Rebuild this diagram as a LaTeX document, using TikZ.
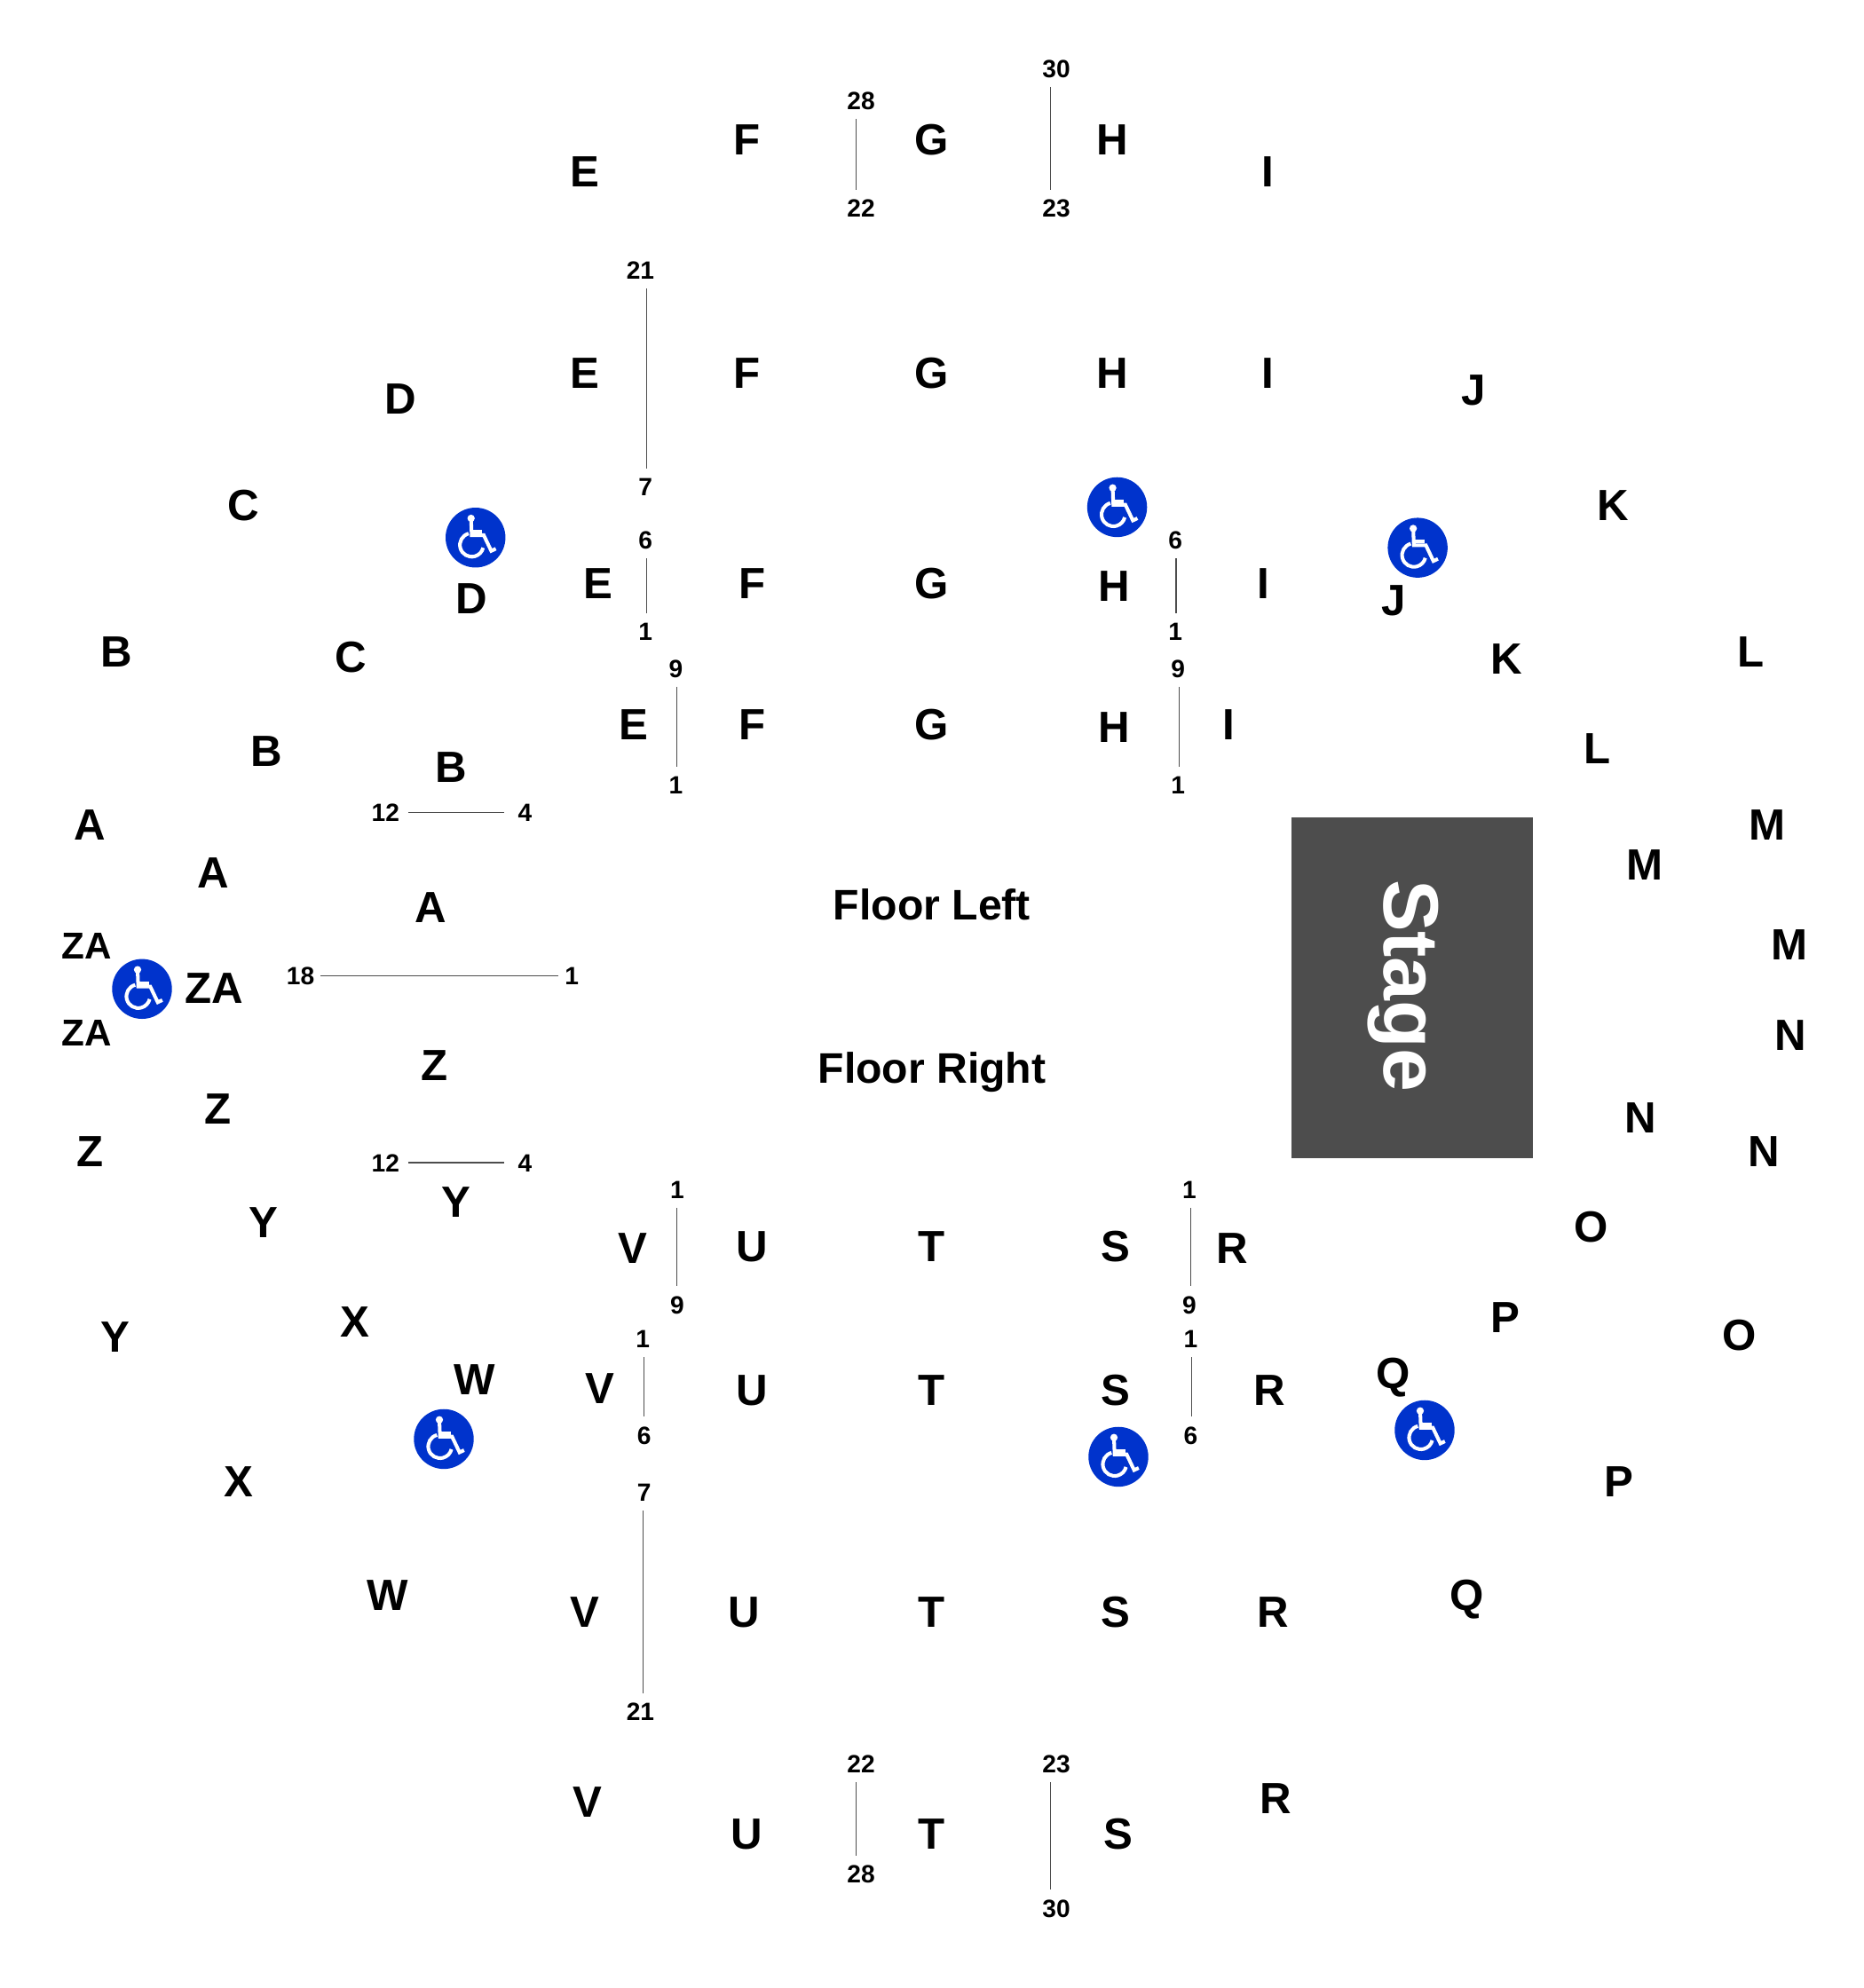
\documentclass[tikz,border=0pt]{standalone}
\usepackage{fontspec}
\setmainfont{Liberation Sans}
\usetikzlibrary{calc}
\definecolor{stagegray}{HTML}{4D4D4D}
\definecolor{accessblue}{HTML}{0033CC}
\tikzset{
  rowlabel/.style={font=\fontsize{14}{14}\selectfont\bfseries, text height=10pt, text depth=0pt, inner sep=0pt},
  floorlabel/.style={rowlabel, font=\fontsize{13.7}{14}\selectfont\bfseries},
  smallrow/.style={rowlabel, font=\fontsize{12}{12}\selectfont\bfseries, text height=8.6pt},
  seatnum/.style={font=\fontsize{8}{9}\selectfont\bfseries, text height=5.8pt, text depth=0pt, inner xsep=1.8pt, inner ysep=2.8pt},
  seatline/.style={draw=stagegray, line width=0.3pt},
  wheelchair/.pic={
    \fill[accessblue] (0,0) circle (23.6);
    \fill[white] (-3.5,-15.2) circle (2.9);
    \draw[white, line width=1.15pt] (-3.5,-15) -- (-3,-1.9) -- (6.5,-1.9) -- (12.4,10.5) -- (16,8.8);
    \draw[white, line width=1.15pt] (-3,-4.7) -- (5.4,-4.7);
    \draw[white, line width=1.15pt] (-3,5.8) ++(255:9.3) arc (255:14:9.3);
  }
}
\begin{document}
\begin{tikzpicture}[x=0.014286cm, y=-0.014286cm]
  \useasboundingbox (0,0) rectangle (1470,1568);

  % stage
  \node[fill=stagegray, minimum width=190.4*0.14286mm, minimum height=268.8*0.14286mm, inner sep=0pt] (stage) at (1113.7,779.1) {};
  \node[font=\fontsize{25}{25}\selectfont\bfseries, text=white, rotate=-90, text height=17.9pt, text depth=0pt, inner sep=0pt] (stagetext) at (1113.7,777.5) {Stage};

  % floor names
  \node[floorlabel] (floorleft) at (735,713) {Floor Left};
  \node[floorlabel] (floorright) at (735,842) {Floor Right};

  % row letters
  \foreach \px/\py/\txt [count=\i] in {
    460/135/E, 588/110/F, 734/110/G, 876/110/H, 999/135/I,
    460/294/E, 588/294/F, 734/294/G, 876/294/H, 999/294/I, 1161/307/J,
    315/314/D, 191/398/C, 371/472/D, 471/460/E, 592/460/F, 734/460/G, 878/462/H, 995/460/I, 1098/473/J, 1271/398/K,
    91/514/B, 276/518/C, 1187/519/K, 1380/514/L,
    499/571/E, 592/571/F, 734/571/G, 878/573/H, 968/571/I, 1259/590/L,
    209/592/B, 355/605/B,
    70/650/A, 1393/650/M, 167/688/A, 1296/682/M, 339/715/A,
    168/779/ZA, 1410/745/M, 1411/816/N, 342/840/Z, 171/874/Z, 70/908/Z, 1293/881/N, 1390/908/N,
    359/948/Y, 207/964/Y, 90/1054/Y,
    498/984/V, 592/983/U, 734/983/T, 879/983/S, 971/984/R, 1254/967/O, 1371/1053/O,
    279/1042/X, 1186/1039/P, 373/1088/W, 472/1095/V, 592/1096/U, 734/1096/T, 879/1096/S, 1000/1096/R, 1098/1083/Q,
    187/1168/X, 1276/1168/P,
    305/1258/W, 460/1271/V, 586/1271/U, 734/1271/T, 879/1271/S, 1003/1271/R, 1156/1258/Q,
    462/1421/V, 588/1446/U, 734/1446/T, 881/1446/S, 1005/1418/R}
    \node[rowlabel] (row\i) at (\px+1,\py) {\txt};
  \node[smallrow] (zaupper) at (68.5,745.5) {ZA};
  \node[smallrow] (zalower) at (68.5,814.5) {ZA};

  % seat numbers, top half
  \node[seatnum] (gtop28) at (679,79) {28};
  \node[seatnum] (gtop22) at (679,164) {22};
  \node[seatnum] (htop30) at (833,54) {30};
  \node[seatnum] (htop23) at (833,164) {23};
  \node[seatnum] (eup21) at (505,213) {21};
  \node[seatnum] (eup7) at (509,384) {7};
  \node[seatnum] (emid6) at (509,426) {6};
  \node[seatnum] (emid1) at (509,498) {1};
  \node[seatnum] (elow9) at (533,527) {9};
  \node[seatnum] (elow1) at (533,619) {1};
  \node[seatnum] (imid6) at (927,426) {6};
  \node[seatnum] (imid1) at (927,498) {1};
  \node[seatnum] (ilow9) at (929,527) {9};
  \node[seatnum] (ilow1) at (929,619) {1};

  % seat numbers, sides
  \node[seatnum] (bleft12) at (304,641) {12};
  \node[seatnum] (bleft4) at (414,641) {4};
  \node[seatnum] (mid18) at (237,769.5) {18};
  \node[seatnum] (mid1) at (451,769.5) {1};
  \node[seatnum] (yleft12) at (304,917) {12};
  \node[seatnum] (yleft4) at (414,917) {4};

  % seat numbers, bottom half
  \node[seatnum] (vup1) at (534,938) {1};
  \node[seatnum] (vup9) at (534,1029) {9};
  \node[seatnum] (rup1) at (938,938) {1};
  \node[seatnum] (rup9) at (938,1029) {9};
  \node[seatnum] (vmid1) at (507,1056) {1};
  \node[seatnum] (vmid6) at (508,1132) {6};
  \node[seatnum] (rmid1) at (939,1056) {1};
  \node[seatnum] (rmid6) at (939,1132) {6};
  \node[seatnum] (vlow7) at (508,1177) {7};
  \node[seatnum] (vlow21) at (505,1350) {21};
  \node[seatnum] (tbot22) at (679,1391) {22};
  \node[seatnum] (tbot28) at (679,1478) {28};
  \node[seatnum] (sbot23) at (833,1391) {23};
  \node[seatnum] (sbot30) at (833,1505) {30};

  % lines between the seat numbers
  \draw[seatline] ($(gtop28.south)+(-4,0)$) -- ($(gtop22.north)+(-4,0)$);
  \draw[seatline] ($(htop30.south)+(-4.5,0)$) -- ($(htop23.north)+(-4.5,0)$);
  \draw[seatline] ($(eup21.south)+(5,0)$) -- ($(eup7.north)+(1,0)$);
  \draw[seatline] ($(emid6.south)+(1,0)$) -- ($(emid1.north)+(1,0)$);
  \draw[seatline] ($(elow9.south)+(0.5,0)$) -- ($(elow1.north)+(0.5,0)$);
  \draw[seatline] ($(imid6.south)+(0.5,0)$) -- ($(imid1.north)+(0.5,0)$);
  \draw[seatline] ($(ilow9.south)+(1,0)$) -- ($(ilow1.north)+(1,0)$);
  \draw[seatline] ($(bleft12.east)+(2,0)$) -- ($(bleft4.west)+(-6,0)$);
  \draw[seatline] (mid18) -- (mid1);
  \draw[seatline] ($(yleft12.east)+(2,0)$) -- ($(yleft4.west)+(-6,0)$);
  \draw[seatline] (vup1.south) -- (vup9.north);
  \draw[seatline] ($(rup1.south)+(1,0)$) -- ($(rup9.north)+(1,0)$);
  \draw[seatline] ($(vmid1.south)+(1,0)$) -- (vmid6.north);
  \draw[seatline] ($(rmid1.south)+(0.5,0)$) -- ($(rmid6.north)+(0.5,0)$);
  \draw[seatline] ($(vlow7.south)+(-1,0)$) -- ($(vlow21.north)+(2,0)$);
  \draw[seatline] ($(tbot22.south)+(-4,0)$) -- ($(tbot28.north)+(-4,0)$);
  \draw[seatline] ($(sbot23.south)+(-4.5,0)$) -- ($(sbot30.north)+(-4.5,0)$);

  % wheelchair spaces
  \pic (chairA) at (881,400) {wheelchair};
  \pic (chairB) at (375,424) {wheelchair};
  \pic (chairC) at (1118,432) {wheelchair};
  \pic (chairD) at (112,780) {wheelchair};
  \pic (chairE) at (350,1135) {wheelchair};
  \pic (chairF) at (882,1149) {wheelchair};
  \pic (chairG) at (1123.5,1128) {wheelchair};
\end{tikzpicture}
\end{document}
